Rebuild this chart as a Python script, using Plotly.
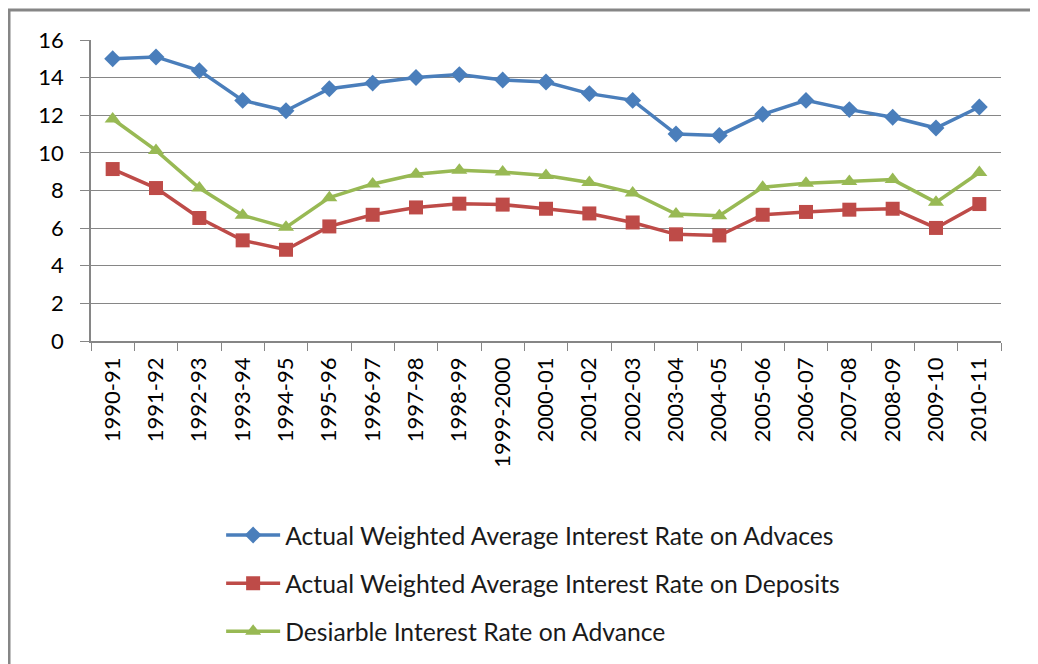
import plotly.graph_objects as go

years = ["1990-91", "1991-92", "1992-93", "1993-94", "1994-95", "1995-96", "1996-97",
         "1997-98", "1998-99", "1999-2000", "2000-01", "2001-02", "2002-03", "2003-04",
         "2004-05", "2005-06", "2006-07", "2007-08", "2008-09", "2009-10", "2010-11"]

advances = [15.0, 15.1, 14.37, 12.79, 12.24, 13.41, 13.71, 14.01, 14.16, 13.87, 13.77,
            13.15, 12.79, 11.0, 10.93, 12.05, 12.79, 12.3, 11.89, 11.32, 12.44]
deposits = [9.14, 8.13, 6.54, 5.35, 4.85, 6.09, 6.71, 7.1, 7.3, 7.25, 7.03,
            6.78, 6.3, 5.67, 5.61, 6.71, 6.86, 6.98, 7.03, 6.01, 7.28]
desirable = [11.8, 10.13, 8.13, 6.68, 6.04, 7.62, 8.35, 8.86, 9.07, 8.98, 8.8,
             8.43, 7.87, 6.75, 6.66, 8.17, 8.38, 8.48, 8.58, 7.37, 8.96]

names = ["Actual Weighted Average Interest Rate on Advaces",
         "Actual Weighted Average Interest Rate on Deposits",
         "Desiarble Interest Rate on Advance"]
colors = ["#4A7EBB", "#BE4B48", "#98B954"]
symbols = ["diamond", "square", "triangle-up"]
sizes = [13, 14, 14]

fig = go.Figure()
for i, (vals, name) in enumerate(zip([advances, deposits, desirable], names)):
    fig.add_trace(go.Scatter(
        x=years, y=vals, name=name, mode="lines+markers",
        line=dict(color=colors[i], width=3.5),
        marker=dict(symbol=symbols[i], size=sizes[i], color=colors[i]),
        legendgroup=f"g{i}",
    ))

font_family = "Lato, 'Open Sans', Arial, sans-serif"
fig.update_layout(
    width=1030, height=656,
    margin=dict(l=83, r=37, t=32, b=323, autoexpand=False),
    plot_bgcolor="white", paper_bgcolor="white",
    font=dict(family=font_family, color="#000000"),
    showlegend=True,
    legend=dict(
        x=0.143, xanchor="left", y=0.231, yanchor="top", yref="container",
        font=dict(size=24.7, color="#1a1a1a"),
        tracegroupgap=13, traceorder="grouped",
        itemwidth=54,
        bgcolor="rgba(0,0,0,0)",
    ),
    xaxis=dict(
        type="category", tickangle=-90, tickfont=dict(size=22),
        showline=True, linecolor="#868686", linewidth=1.5,
        ticks="outside", tickson="boundaries", ticklen=8, tickcolor="#868686",
        showgrid=False, range=[-0.5, 20.5], ticklabelstandoff=6,
    ),
    yaxis=dict(
        range=[0, 16], dtick=2, tickfont=dict(size=22),
        showline=True, linecolor="#868686", linewidth=1.5,
        ticks="outside", ticklen=9, tickcolor="#868686",
        showgrid=True, gridcolor="#868686", gridwidth=1.2,
        zeroline=False, ticklabelstandoff=12,
    ),
    shapes=[dict(type="rect", xref="paper", yref="paper",
                 x0=-0.0901, x1=1.06, y0=-1.2, y1=1.0997,
                 line=dict(color="#868686", width=3), fillcolor="rgba(0,0,0,0)")],
)

fig.write_html("out.html")
